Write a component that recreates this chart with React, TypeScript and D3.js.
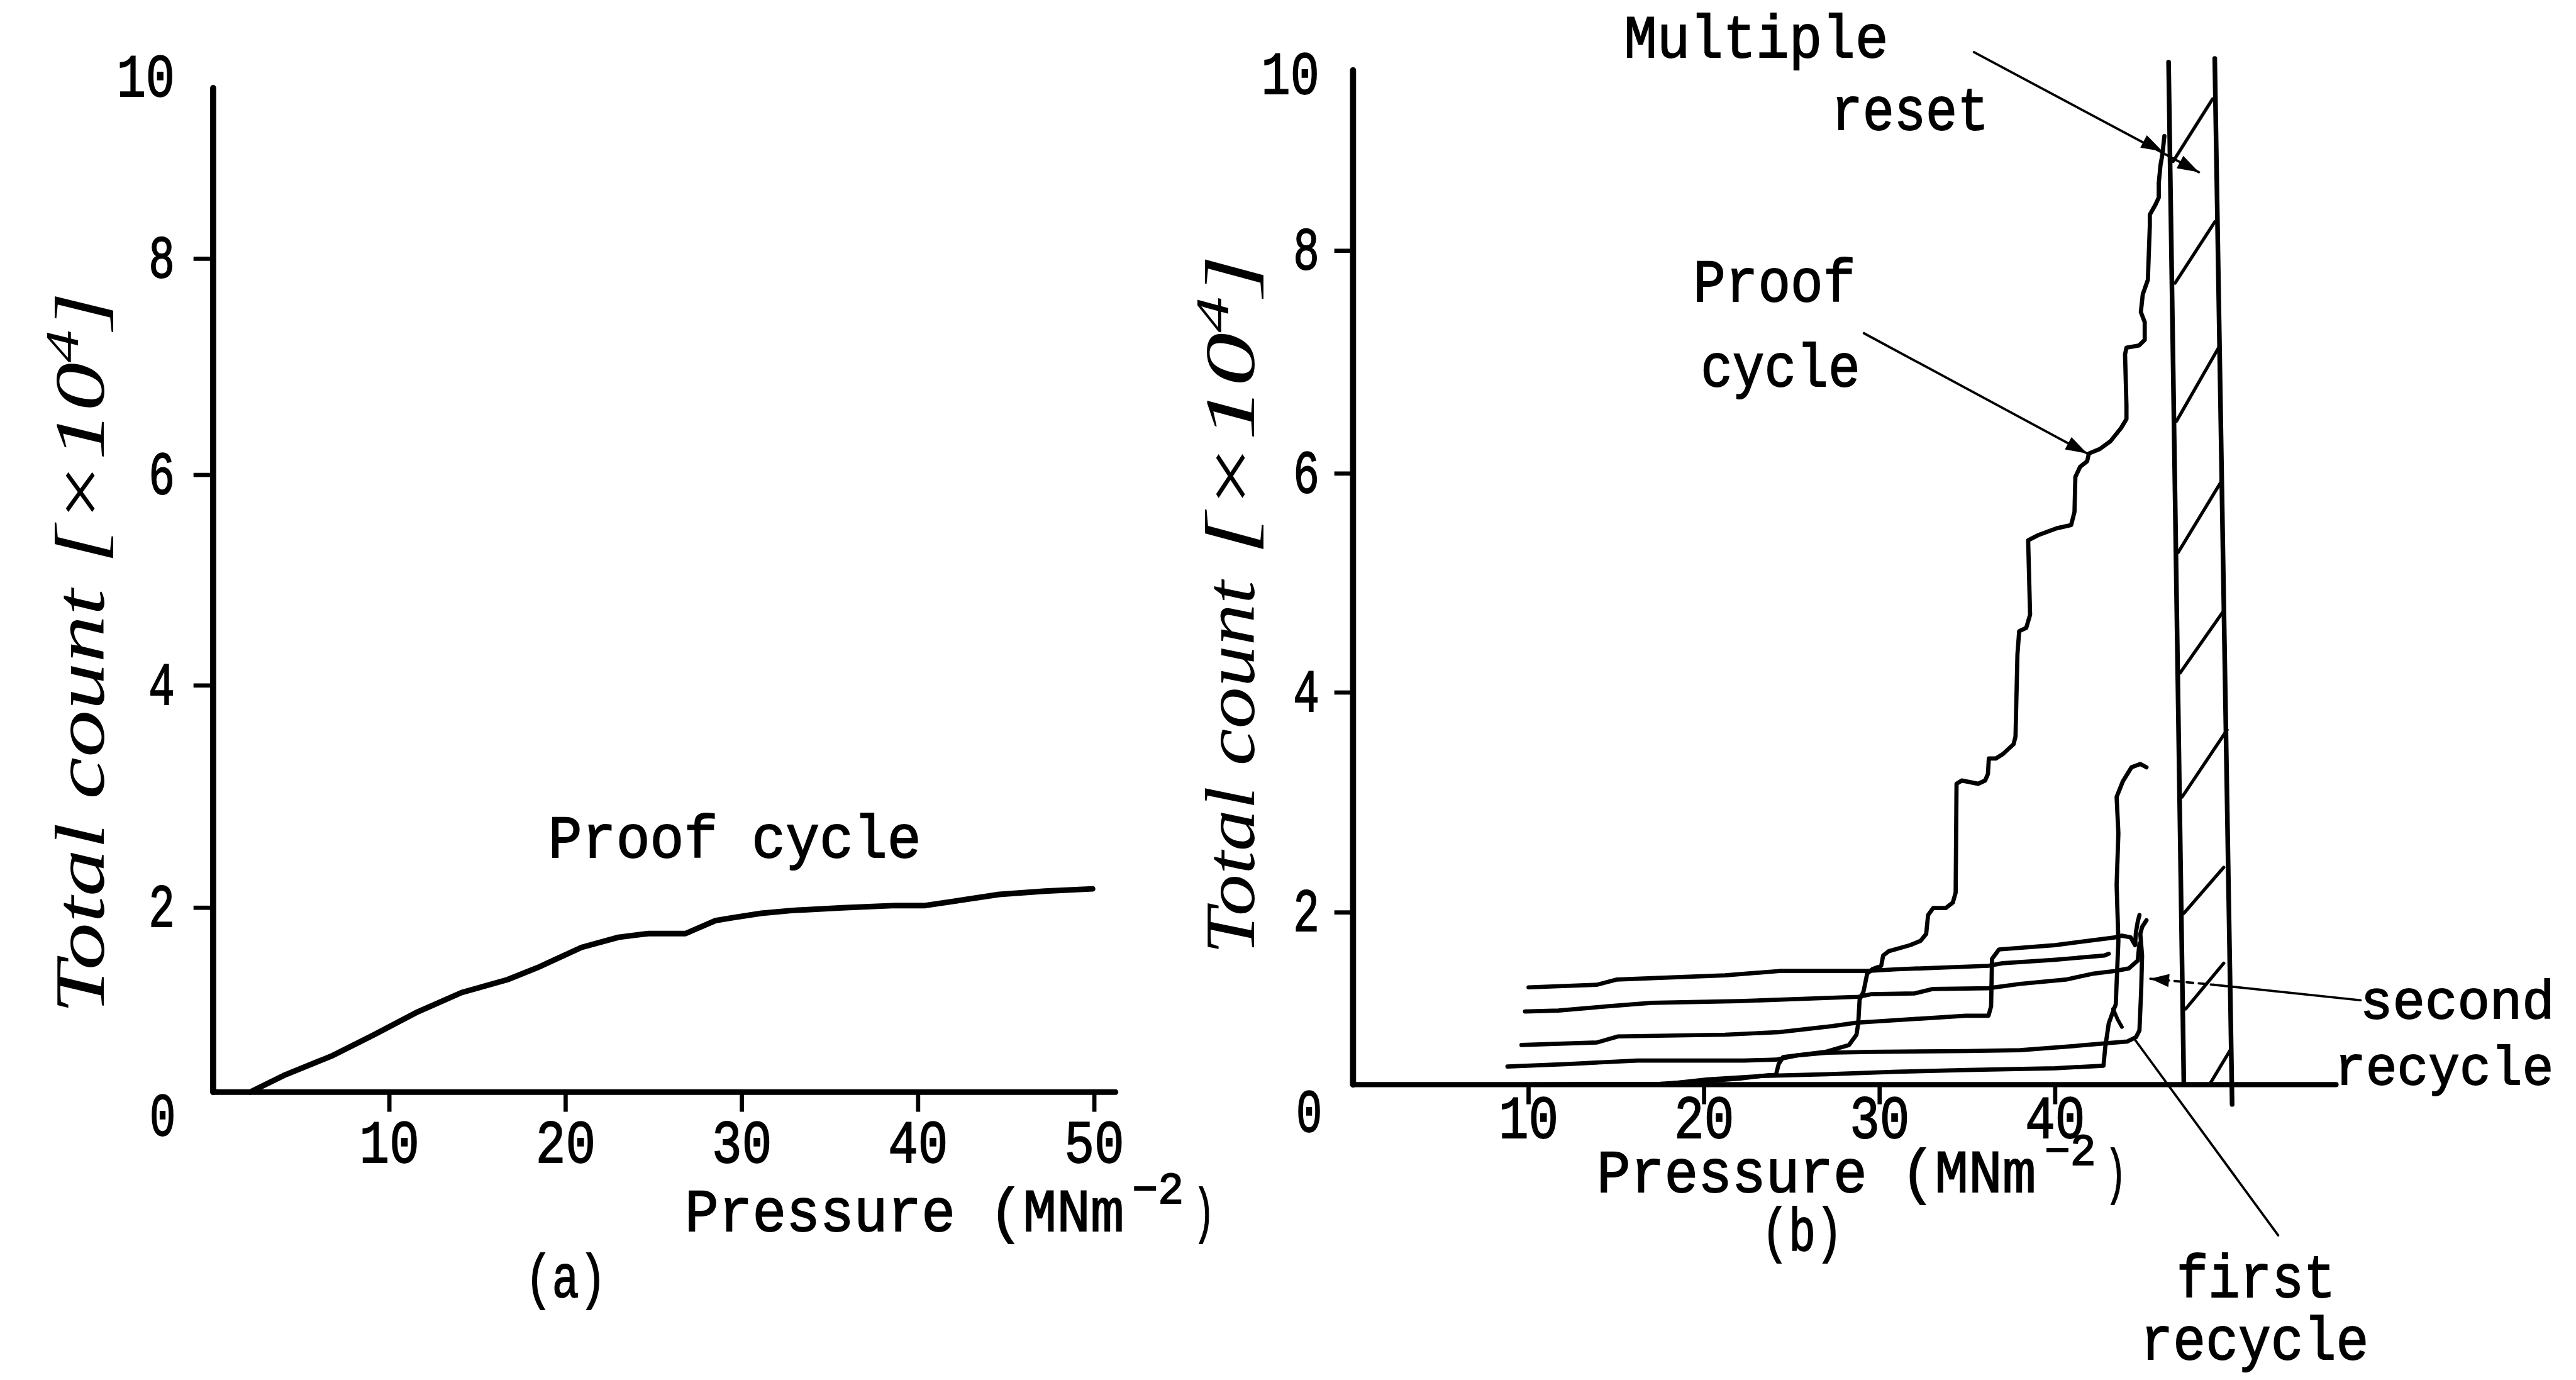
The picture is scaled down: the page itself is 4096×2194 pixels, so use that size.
import React from 'react';
import * as d3 from 'd3';

type P = [number, number];

const S = 4096 / 5506;
const MONO = "'Liberation Mono', 'Courier New', monospace";
const HAND = "'Liberation Serif', 'DejaVu Serif', serif";

// ---- Panel (a): proof cycle, total count (x10^4) against pressure (MN m^-2)
const proofCycleA: P[] = [
  [2.1, 0], [4.0, 0.18], [6.7, 0.39], [9.1, 0.62], [11.6, 0.87], [14.1, 1.08],
  [16.7, 1.22], [18.4, 1.35], [20.9, 1.57], [23.0, 1.68], [24.7, 1.72], [26.0, 1.72],
  [26.8, 1.72], [28.5, 1.86], [29.4, 1.89], [31.1, 1.94], [32.8, 1.97], [35.7, 2.0],
  [38.7, 2.02], [40.4, 2.02], [42.1, 2.06], [44.6, 2.12], [47.2, 2.15], [49.9, 2.17],
];

// ---- Panel (b): proof cycle and the recycles
const proofCycleB: P[] = [
  [0, 0], [10, 0], [17.5, 0.01], [20, 0.04], [22, 0.07], [24.1, 0.12], [24.25, 0.24],
  [24.5, 0.32], [26.9, 0.38], [28.25, 0.46], [28.68, 0.58], [28.78, 0.71], [28.86, 0.99],
  [29.08, 1.08], [29.29, 1.29], [29.58, 1.34], [30.09, 1.38], [30.2, 1.5], [30.52, 1.55],
  [31.74, 1.62], [32.33, 1.67], [32.65, 1.75], [32.76, 1.97], [33.05, 2.04], [33.77, 2.04],
  [34.17, 2.09], [34.33, 2.18], [34.38, 3.17], [34.68, 3.2], [35.61, 3.17], [36.01, 3.2],
  [36.17, 3.26], [36.22, 3.4], [36.62, 3.4], [37.02, 3.44], [37.63, 3.53], [37.74, 3.6],
  [37.85, 4.35], [37.95, 4.56], [38.35, 4.59], [38.57, 4.71], [38.46, 5.39], [39.07, 5.44],
  [40.09, 5.5], [40.91, 5.53], [41.1, 5.65], [41.15, 5.97], [41.42, 6.06], [41.82, 6.11],
  [41.92, 6.18], [42.54, 6.22], [43.15, 6.29], [43.76, 6.41], [44.06, 6.49], [44.06, 6.61],
  [43.98, 7.07], [44.06, 7.13], [44.78, 7.15], [45.1, 7.2], [45.1, 7.36], [44.88, 7.45],
  [44.99, 7.61], [45.28, 7.74], [45.39, 8.27], [45.39, 8.4], [45.71, 8.51], [45.9, 8.59],
  [45.9, 8.75], [46.0, 8.95], [46.11, 9.07], [46.22, 9.27],
];

const firstRecycle: P[] = [
  [17.5, 0], [20.2, 0.06], [23.3, 0.1], [27, 0.12], [31, 0.15], [35, 0.17], [40, 0.19],
  [42.75, 0.22], [42.85, 0.43], [43.05, 0.71], [43.35, 0.88], [43.45, 0.93], [43.6, 1.67],
  [43.5, 2.25], [43.6, 2.72], [43.5, 3.05], [43.85, 3.19], [44.35, 3.32], [44.85, 3.35],
  [45.2, 3.32],
];
const firstRecycleHook: P[] = [[43.3, 0.88], [43.55, 0.76], [43.8, 0.67]];

const recycle1: P[] = [
  [10, 1.13], [13.9, 1.16], [15, 1.22], [17.5, 1.24], [21.2, 1.27], [24.3, 1.32], [29.3, 1.32],
  [31, 1.34], [36.2, 1.38], [37, 1.41], [40, 1.45], [42.8, 1.5], [43.05, 1.52],
];
const recycle2: P[] = [
  [9.8, 0.85], [11.7, 0.86], [14.5, 0.91], [17, 0.95], [22, 0.97], [28.8, 1.02], [29.5, 1.05],
  [32, 1.06], [33, 1.11], [36.2, 1.12], [38, 1.17], [40.6, 1.22], [42.2, 1.29], [43.4, 1.32],
  [44.2, 1.35], [44.7, 1.44], [44.8, 1.64],
];
const recycle3: P[] = [
  [9.6, 0.46], [13.9, 0.49], [15.1, 0.56], [21.2, 0.58], [24.3, 0.61], [27.3, 0.68], [28.7, 0.72],
  [29.5, 0.73], [34.9, 0.8], [36.2, 0.8], [36.35, 0.91], [36.4, 1.46], [36.8, 1.57], [40, 1.62],
  [43.4, 1.71], [43.8, 1.73], [44.3, 1.71], [44.55, 1.62], [44.6, 1.77], [44.7, 1.89], [44.8, 1.97],
];
const recycle4: P[] = [
  [8.8, 0.21], [12.3, 0.24], [16.2, 0.28], [22.3, 0.28], [24.1, 0.29], [25.3, 0.34], [27, 0.37],
  [29.4, 0.38], [35, 0.39], [38, 0.4], [40.6, 0.44], [42.9, 0.48], [44.1, 0.5], [44.6, 0.55],
  [44.8, 0.63], [44.9, 1.1], [44.95, 1.5], [44.85, 1.75], [44.95, 1.83], [45.2, 1.91],
];

// multiple-reset band: two edges and the hatching between them
const bandLeft: P[] = [[46.46, 10.09], [47.33, 0]];
const bandRight: P[] = [[49.09, 10.13], [50.08, -0.23]];
const hatchX1 = [46.72, 46.83, 46.91, 47.01, 47.12, 47.23, 47.33, 47.44, 48.85];
const hatchY1 = [8.99, 7.71, 6.47, 5.28, 4.18, 3.05, 1.99, 0.88, 0.02];
const hatchX2 = [48.96, 49.09, 49.31, 49.47, 49.57, 49.79, 49.6, 49.6, 49.97];
const hatchY2 = [9.68, 8.32, 7.13, 5.93, 4.74, 3.66, 2.41, 1.41, 0.4];

// annotation leaders (data units)
const resetLeader: P[] = [[35.37, 10.2], [48.19, 8.87]];
const resetHeads: P[] = [[46.12, 9.1], [48.19, 8.87]];
const proofLeader: P[] = [[29.1, 7.26], [41.82, 6.18]];
const secondLeaderDash: P[] = [[45.42, 1.23], [49.01, 1.16]];
const secondLeader: P[] = [[49.01, 1.16], [57.4, 0.98]];
const firstLeader: P[] = [[44.48, 0.54], [52.7, -1.75]];

const xTicksA = [10, 20, 30, 40, 50];
const xTicksB = [10, 20, 30, 40];
const yTicks = [2, 4, 6, 8];

function head(tip: [number, number], from: [number, number], len = 46, half = 15) {
  const dx = tip[0] - from[0];
  const dy = tip[1] - from[1];
  const d = Math.hypot(dx, dy) || 1;
  const ux = dx / d, uy = dy / d;
  const bx = tip[0] - ux * len, by = tip[1] - uy * len;
  return `${tip[0]},${tip[1]} ${bx - uy * half},${by + ux * half} ${bx + uy * half},${by - ux * half}`;
}

function Txt(props: { x: number; y: number; len?: number; size?: number; children: React.ReactNode }) {
  const { x, y, len, size = 130, children } = props;
  return (
    <text x={x} y={y} fontFamily={MONO} fontSize={size} fill="#000" stroke="#000" strokeWidth={2.5}
      textLength={len} lengthAdjust={len ? 'spacingAndGlyphs' : undefined}>
      {children}
    </text>
  );
}

function Title(props: { x: number; y: number; len: number; children: React.ReactNode }) {
  return (
    <g transform={`translate(${props.x},${props.y}) rotate(-90)`}>
      <text x={0} y={0} fontFamily={HAND} fontStyle="italic" fontSize={150} textLength={props.len}
        lengthAdjust="spacingAndGlyphs" fill="#000">{props.children}</text>
    </g>
  );
}

export default function App() {
  const xA = d3.scaleLinear().domain([0, 51.2]).range([455.6, 455.6 + 51.2 * 37.67]);
  const yA = d3.scaleLinear().domain([0, 2, 4, 6, 8, 10]).range([2334, 1940, 1465, 1015, 553, 188]);
  const xB = d3.scaleLinear().domain([0, 56]).range([2892, 2892 + 56 * 37.52]);
  const yB = d3.scaleLinear().domain([0, 2, 4, 6, 8, 10]).range([2318, 1950, 1480, 1012, 536, 150]);

  const lineA = d3.line<P>().x(d => xA(d[0])).y(d => yA(d[1]));
  const lineB = d3.line<P>().x(d => xB(d[0])).y(d => yB(d[1]));
  const pB = (d: P): [number, number] => [xB(d[0]), yB(d[1])];

  const curve = { fill: 'none', stroke: '#000', strokeLinejoin: 'round' as const, strokeLinecap: 'round' as const };

  return (
    <svg width={4096} height={2194} viewBox="0 0 4096 2194"
      style={{ position: 'absolute', left: 0, top: 0, background: '#fff' }}>
      <rect x={0} y={0} width={4096} height={2194} fill="#fff" />
      <g transform={`scale(${S})`}>
        {/* ---------------- panel (a) ---------------- */}
        <g>
          <line x1={xA(0)} y1={yA(10)} x2={xA(0)} y2={yA(0)} stroke="#000" strokeWidth={13} strokeLinecap="round" />
          <line x1={xA(0)} y1={yA(0)} x2={xA(51.2)} y2={yA(0)} stroke="#000" strokeWidth={12} strokeLinecap="round" />
          {yTicks.map(t => (
            <line key={t} x1={xA(0) - 42} x2={xA(0)} y1={yA(t)} y2={yA(t)} stroke="#000" strokeWidth={9} />
          ))}
          {xTicksA.map(t => (
            <line key={t} x1={xA(t)} x2={xA(t)} y1={yA(0)} y2={yA(0) + 42} stroke="#000" strokeWidth={9} />
          ))}
          {yTicks.map(t => (
            <Txt key={t} x={xA(0) - 138} y={yA(t) + 40} len={56}>{t}</Txt>
          ))}
          <Txt x={xA(0) - 206} y={yA(10) + 17} len={124}>10</Txt>
          <Txt x={xA(0) - 136} y={yA(0) + 92} len={56}>0</Txt>
          {xTicksA.map(t => (
            <Txt key={t} x={xA(t) - 64} y={yA(0) + 150} len={128}>{t}</Txt>
          ))}
          <path d={lineA(proofCycleA) ?? ''} {...curve} strokeWidth={12} />
          <Txt x={1172} y={1832} len={797}>Proof cycle</Txt>
          <Txt x={1464} y={2631} len={939}>Pressure (MNm</Txt>
          <Txt x={2420} y={2572} len={110} size={95}>−2</Txt>
          <Txt x={2551} y={2631} len={45}>)</Txt>
          <Txt x={1122} y={2772} len={174}>(a)</Txt>
          <Title x={222} y={2167} len={908}>Total count</Title>
          <Title x={222} y={1205} len={581}>[×10<tspan dy={-55} fontSize={100}>4</tspan><tspan dy={55}>]</tspan></Title>
        </g>

        {/* ---------------- panel (b) ---------------- */}
        <g>
          <line x1={xB(0)} y1={yB(10)} x2={xB(0)} y2={yB(0)} stroke="#000" strokeWidth={13} strokeLinecap="round" />
          <line x1={xB(0)} y1={yB(0)} x2={xB(56)} y2={yB(0)} stroke="#000" strokeWidth={11} strokeLinecap="round" />
          {yTicks.map(t => (
            <line key={t} x1={xB(0) - 40} x2={xB(0)} y1={yB(t)} y2={yB(t)} stroke="#000" strokeWidth={9} />
          ))}
          {xTicksB.map(t => (
            <line key={t} x1={xB(t)} x2={xB(t)} y1={yB(0)} y2={yB(0) + 42} stroke="#000" strokeWidth={9} />
          ))}
          {yTicks.map(t => (
            <Txt key={t} x={xB(0) - 128} y={yB(t) + 40} len={56}>{t}</Txt>
          ))}
          <Txt x={xB(0) - 196} y={yB(10) + 50} len={124}>10</Txt>
          <Txt x={xB(0) - 122} y={yB(0) + 100} len={56}>0</Txt>
          {xTicksB.map(t => (
            <Txt key={t} x={xB(t) - 64} y={yB(0) + 114} len={128}>{t}</Txt>
          ))}

          {/* reset band */}
          <path d={lineB(bandLeft) ?? ''} {...curve} strokeWidth={10} />
          <path d={lineB(bandRight) ?? ''} {...curve} strokeWidth={10} />
          {hatchX1.map((x1, i) => (
            <path key={i} d={lineB([[x1, hatchY1[i]], [hatchX2[i], hatchY2[i]]]) ?? ''} {...curve} strokeWidth={7} />
          ))}

          {/* curves */}
          <path d={lineB(recycle1) ?? ''} {...curve} strokeWidth={9} />
          <path d={lineB(recycle2) ?? ''} {...curve} strokeWidth={9} />
          <path d={lineB(recycle3) ?? ''} {...curve} strokeWidth={9} />
          <path d={lineB(recycle4) ?? ''} {...curve} strokeWidth={9} />
          <path d={lineB(firstRecycle) ?? ''} {...curve} strokeWidth={9} />
          <path d={lineB(firstRecycleHook) ?? ''} {...curve} strokeWidth={8} />
          <path d={lineB(proofCycleB) ?? ''} {...curve} strokeWidth={9} />

          {/* annotations */}
          <path d={lineB(resetLeader) ?? ''} {...curve} strokeWidth={5} />
          {resetHeads.map((h, i) => (
            <polygon key={i} points={head(pB(h), pB(resetLeader[0]))} fill="#000" />
          ))}
          <path d={lineB(proofLeader) ?? ''} {...curve} strokeWidth={5} />
          <polygon points={head(pB(proofLeader[1]), pB(proofLeader[0]))} fill="#000" />
          <path d={lineB(secondLeaderDash) ?? ''} {...curve} strokeWidth={5} strokeDasharray="14 12" />
          <path d={lineB(secondLeader) ?? ''} {...curve} strokeWidth={5} />
          <polygon points={head(pB(secondLeaderDash[0]), pB(secondLeaderDash[1]), 40, 14)} fill="#000" />
          <path d={lineB(firstLeader) ?? ''} {...curve} strokeWidth={5} />

          <Txt x={3471} y={122} len={565}>Multiple</Txt>
          <Txt x={3914} y={277} len={337}>reset</Txt>
          <Txt x={3619} y={644} len={347}>Proof</Txt>
          <Txt x={3635} y={825} len={341}>cycle</Txt>
          <Txt x={5045} y={2176} len={415} size={116}>second</Txt>
          <Txt x={4990} y={2318} len={468} size={116}>recycle</Txt>
          <Txt x={4652} y={2772} len={340}>first</Txt>
          <Txt x={4575} y={2905} len={488}>recycle</Txt>
          <Txt x={3413} y={2548} len={939}>Pressure (MNm</Txt>
          <Txt x={4370} y={2490} len={110} size={95}>−2</Txt>
          <Txt x={4500} y={2548} len={45}>)</Txt>
          <Txt x={3765} y={2672} len={174}>(b)</Txt>
          <Title x={2680} y={2040} len={799}>Total count</Title>
          <Title x={2680} y={1187} len={643}>[×10<tspan dy={-55} fontSize={100}>4</tspan><tspan dy={55}>]</tspan></Title>
        </g>
      </g>
    </svg>
  );
}
